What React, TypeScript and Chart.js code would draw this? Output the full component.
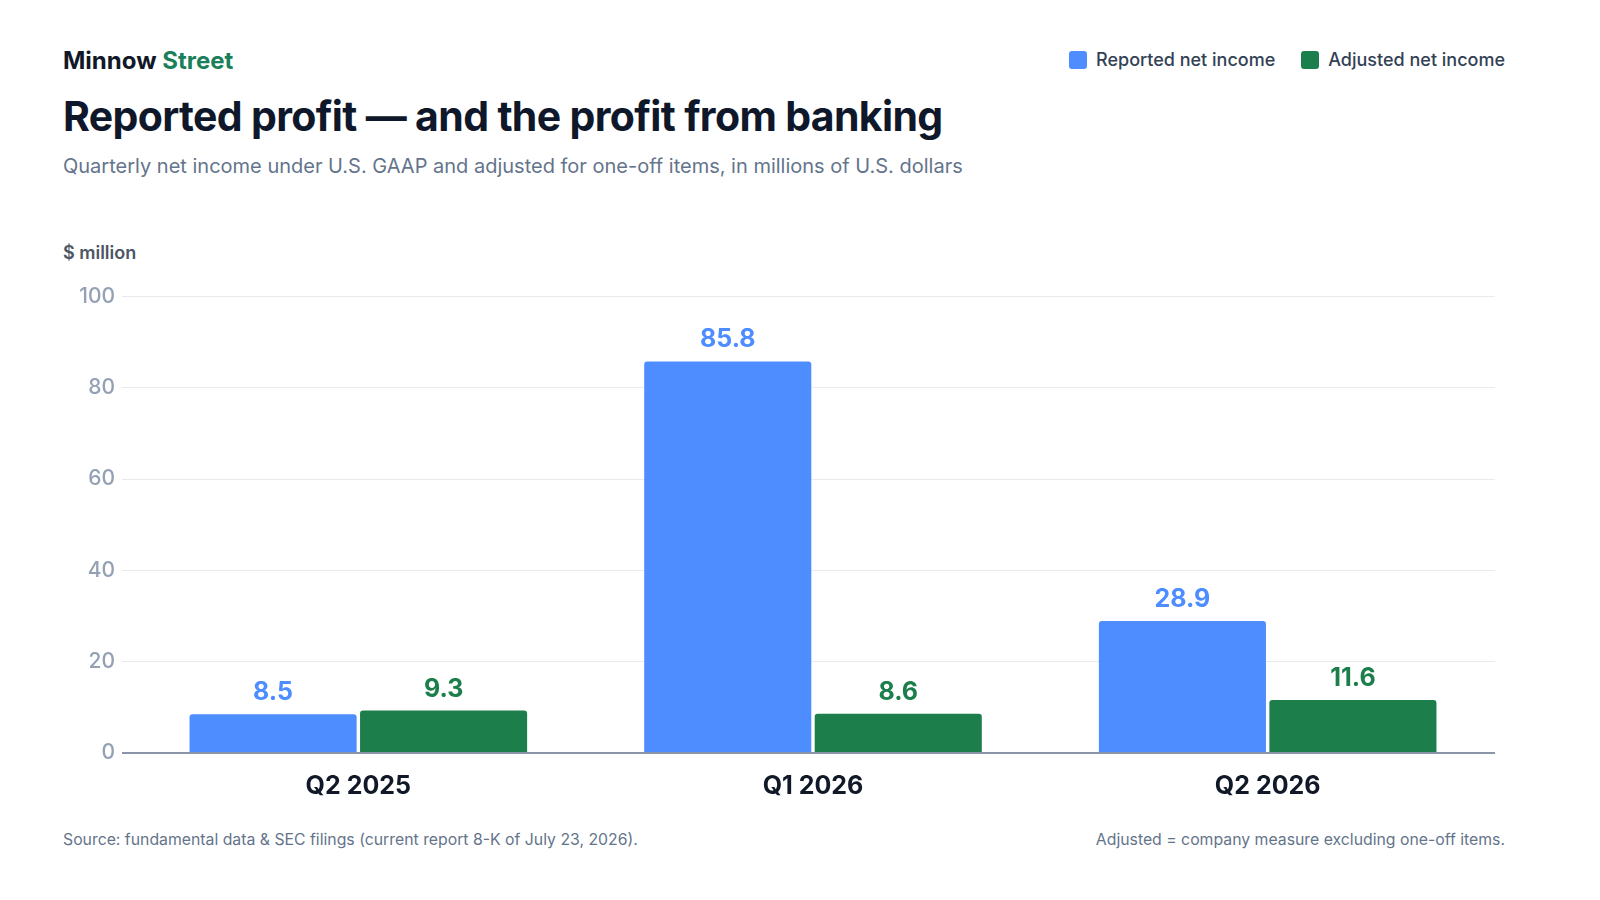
import React, { useRef, useEffect } from 'react';
import { Chart, registerables } from 'chart.js';

Chart.register(...registerables);

const quarters: string[] = ['Q2 2025', 'Q1 2026', 'Q2 2026'];
const reported: number[] = [8.5, 85.8, 28.9];
const adjusted: number[] = [9.3, 8.6, 11.6];
const yTicks: number[] = [0, 20, 40, 60, 80, 100];

const BLUE = '#4d8dff';
const GREEN = '#1c7f4b';
const FONT = 'Inter, "Noto Sans", sans-serif';

// value labels above each bar
const valueLabels = {
  id: 'valueLabels',
  afterDatasetsDraw(chart: any) {
    const ctx = chart.ctx;
    ctx.save();
    ctx.font = `700 25px ${FONT}`;
    ctx.textAlign = 'center';
    ctx.textBaseline = 'alphabetic';
    chart.data.datasets.forEach((ds: any, i: number) => {
      const meta = chart.getDatasetMeta(i);
      ctx.fillStyle = ds.backgroundColor;
      meta.data.forEach((bar: any, j: number) => {
        ctx.fillText(ds.data[j].toFixed(1), bar.x, bar.y - 14);
      });
    });
    ctx.restore();
  },
};

const ProfitChart: React.FC = () => {
  const chartRef = useRef<HTMLCanvasElement | null>(null);
  const chartInstanceRef = useRef<Chart | null>(null);

  useEffect(() => {
    if (!chartRef.current) return;
    if (chartInstanceRef.current) {
      chartInstanceRef.current.destroy();
      chartInstanceRef.current = null;
    }
    const chart = new Chart(chartRef.current, {
      type: 'bar',
      data: {
        labels: quarters,
        datasets: [
          {
            label: 'Reported net income',
            data: reported,
            backgroundColor: BLUE,
            borderRadius: 3,
            categoryPercentage: 0.75,
            barPercentage: 0.98,
          },
          {
            label: 'Adjusted net income',
            data: adjusted,
            backgroundColor: GREEN,
            borderRadius: 3,
            categoryPercentage: 0.75,
            barPercentage: 0.98,
          },
        ],
      },
      options: {
        animation: false,
        responsive: false,
        maintainAspectRatio: false,
        layout: { padding: { left: 63, right: 105, top: 14, bottom: 6 } },
        plugins: {
          legend: { display: false },
          tooltip: { enabled: false },
        },
        scales: {
          x: {
            grid: { display: false },
            border: { display: false },
            ticks: {
              color: '#111827',
              padding: 10,
              font: { family: FONT, size: 25, weight: 'bold' },
            },
          },
          y: {
            min: 0,
            max: 100,
            afterFit(scale: any) {
              scale.width = 68;
            },
            afterBuildTicks(scale: any) {
              scale.ticks = yTicks.map((v) => ({ value: v }));
            },
            border: { display: false },
            grid: {
              tickLength: 9,
              color: (c: any) => (c.tick && c.tick.value === 0 ? '#8b95a8' : '#e8eaee'),
              lineWidth: (c: any) => (c.tick && c.tick.value === 0 ? 2 : 1),
            },
            ticks: {
              color: '#94a0b4',
              padding: 7,
              font: { family: FONT, size: 21, weight: 500 },
            },
          },
        },
      },
      plugins: [valueLabels],
    });
    chartInstanceRef.current = chart;
    return () => {
      if (chartInstanceRef.current !== null) {
        chartInstanceRef.current.destroy();
        chartInstanceRef.current = null;
      }
    };
  }, []);

  return <canvas ref={chartRef} width={1600} height={540} style={{ position: 'absolute', left: 0, top: 277, width: 1600, height: 540 }} />;
};

const LegendItem: React.FC<{ color: string; label: string }> = ({ color, label }) => (
  <div style={{ display: 'flex', alignItems: 'center', marginLeft: 26 }}>
    <span style={{ width: 18, height: 18, borderRadius: 3, background: color, display: 'inline-block', marginRight: 9 }} />
    <span style={{ fontSize: 18, color: '#334155', fontWeight: 500 }}>{label}</span>
  </div>
);

export default function App() {
  return (
    <div style={{ position: 'absolute', left: 0, top: 0, width: 1600, height: 900, background: '#fff', fontFamily: FONT, overflow: 'hidden' }}>
      <div style={{ position: 'absolute', left: 63, top: 46, fontSize: 24, fontWeight: 700, color: '#111827' }}>
        Minnow <span style={{ color: '#1a7f5a' }}>Street</span>
      </div>
      <div style={{ position: 'absolute', right: 95, top: 49, display: 'flex' }}>
        <LegendItem color={BLUE} label="Reported net income" />
        <LegendItem color={GREEN} label="Adjusted net income" />
      </div>
      <div style={{ position: 'absolute', left: 63, top: 91, fontSize: 41, fontWeight: 700, color: '#0f172a', letterSpacing: -0.65 }}>
        Reported profit — and the profit from banking
      </div>
      <div style={{ position: 'absolute', left: 63, top: 154, fontSize: 20, color: '#64748b' }}>
        Quarterly net income under U.S. GAAP and adjusted for one-off items, in millions of U.S. dollars
      </div>
      <div style={{ position: 'absolute', left: 63, top: 242, fontSize: 18, fontWeight: 600, color: '#4b5563' }}>$ million</div>
      <ProfitChart />
      <div style={{ position: 'absolute', left: 63, top: 830, fontSize: 15.8, color: '#64748b' }}>
        Source: fundamental data &amp; SEC filings (current report 8-K of July 23, 2026).
      </div>
      <div style={{ position: 'absolute', right: 95, top: 830, fontSize: 15.8, color: '#64748b' }}>
        Adjusted = company measure excluding one-off items.
      </div>
    </div>
  );
}
